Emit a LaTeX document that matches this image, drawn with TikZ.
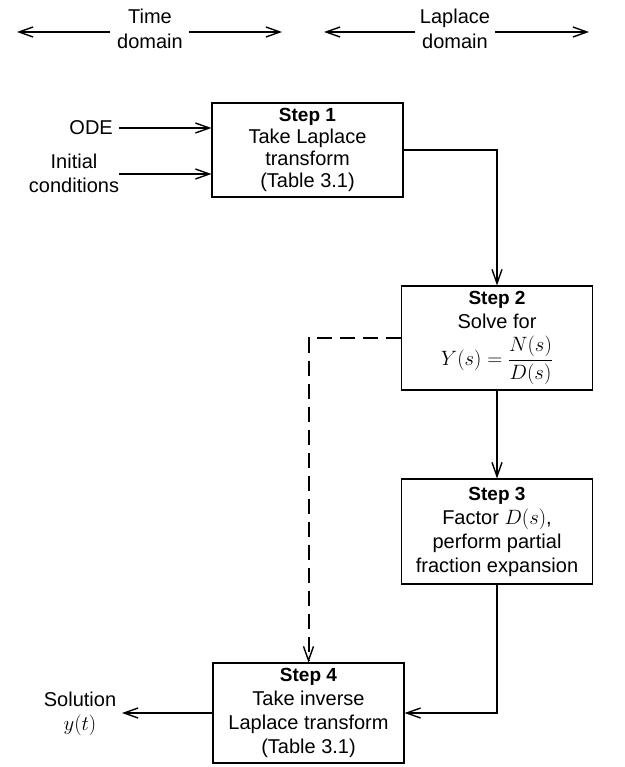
\documentclass[tikz,border=0pt]{standalone}
\usepackage{amsmath}
\usepackage{fontspec}
\setmainfont{Liberation Sans}
\usetikzlibrary{arrows.meta}
\newcommand\steplbl[1]{{\bfseries\fontsize{19}{24}\selectfont #1}}
\begin{document}
\begin{tikzpicture}[x=1pt,y=-1pt,
  box/.style={draw, line width=1.1pt, rectangle, inner sep=0pt, align=center,
    minimum width=191pt, font=\fontsize{20}{24}\selectfont},
  lbl/.style={inner sep=0pt, align=center, font=\fontsize{20}{24}\selectfont},
  conn/.style={line width=1.7pt, -{Straight Barb[length=14pt,width=10pt,line width=1.4pt]}},
  dashconn/.style={conn, line width=2pt, dash pattern=on 15pt off 8pt}]
\useasboundingbox (0,0) rectangle (624,767);
\fill[white] (0,0) rectangle (624,767);

% top labels
\node[lbl, font=\fontsize{20}{25}\selectfont] (time) at (150,29) {Time\\domain};
\node[lbl, font=\fontsize{20}{25}\selectfont] (lap) at (455,29) {Laplace\\domain};
\coordinate (ta) at (110,32); \coordinate (tb) at (17,32);
\coordinate (tc) at (189,32); \coordinate (td) at (282,32);
\coordinate (la) at (415,32); \coordinate (lb) at (324,32);
\coordinate (lc) at (495,32); \coordinate (ld) at (589,32);
\draw[conn] (ta) -- (tb);
\draw[conn] (tc) -- (td);
\draw[conn] (la) -- (lb);
\draw[conn] (lc) -- (ld);

% boxes
\node[box, minimum height=94pt, font=\fontsize{20}{22}\selectfont] (b1) at (307.5,150)
  {\steplbl{Step 1}\\Take Laplace\\transform\\(Table 3.1)};
\node[box, minimum height=104pt] (b2) at (497,338)
  {\steplbl{Step 2}\\Solve for\\[6pt]$Y(s)=\dfrac{N(s)}{D(s)}$};
\node[box, minimum height=105pt] (b3) at (497,531.5)
  {\steplbl{Step 3}\\Factor $D(s)$,\\perform partial\\fraction expansion};
\node[box, minimum height=100pt] (b4) at (308.5,713)
  {\steplbl{Step 4}\\Take inverse\\Laplace transform\\(Table 3.1)};

% inputs
\node[lbl, anchor=east] (ode) at (113,128) {ODE};
\node[lbl] (ic) at (74,173) {Initial\\conditions};
\coordinate (odes) at (119,128);
\coordinate (ics) at (119,174);
\draw[conn] (odes) -- (odes -| b1.west);
\draw[conn] (ics) -- (ics -| b1.west);

% output
\node[lbl] (sol) at (80,714) {Solution\\$y(t)$};
\coordinate (solend) at (122,713);
\draw[conn] (b4.west) -- (solend);

% flow
\draw[conn] (b1.east) -| (b2.north);
\draw[conn] (b2.south) -- (b3.north);
\draw[conn] (b3.south) |- (b4.east);
\draw[dashconn] (b2.west) -| (b4.north);
\end{tikzpicture}
\end{document}
